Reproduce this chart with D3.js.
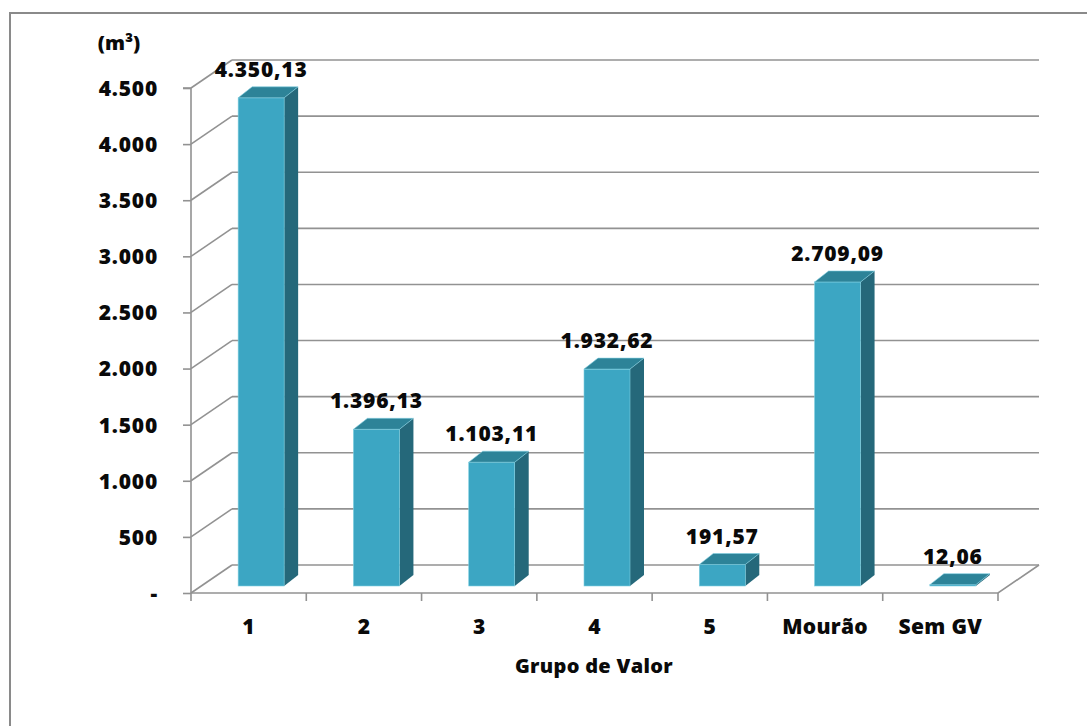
<!DOCTYPE html>
<html><head><meta charset="utf-8">
<script src="https://cdn.jsdelivr.net/npm/d3@7"></script>
<style>body{margin:0;background:#fff}svg{display:block}text{font-family:"Open Sans",sans-serif;font-weight:800;fill:#0a0a0a}</style>
</head><body>
<svg id="c" width="1087" height="726"></svg>
<script>
const categories = ["1","2","3","4","5","Mourão","Sem GV"];
const values = [4350.13, 1396.13, 1103.11, 1932.62, 191.57, 2709.09, 12.06];
const valueLabels = ["4.350,13","1.396,13","1.103,11","1.932,62","191,57","2.709,09","12,06"];
const yTicks = [0,500,1000,1500,2000,2500,3000,3500,4000,4500];
const yTickLabels = ["-","500","1.000","1.500","2.000","2.500","3.000","3.500","4.000","4.500"];
const yUnit = "(m³)";
const xTitle = "Grupo de Valor";

const svg = d3.select("#c");
const x0 = 191, x1 = 998, yBase = 593;
const depth = {dx: 41, dy: -28};
const barPlane = {dx: 12.5, dy: -7};
const barDepth = {dx: 14, dy: -11};
const barW = 46;

const x = d3.scaleBand().domain(categories).range([x0, x1]).padding(0);
const y = d3.scaleLinear().domain([0, 4500]).range([yBase, yBase - 505]);

// chart border
svg.append("rect").attr("x",10).attr("y",13).attr("width",1100).attr("height",800)
  .attr("fill","none").attr("stroke","#8a8a8a").attr("stroke-width",2);

const grid = svg.append("g").attr("stroke","#929292").attr("stroke-width",1.6).attr("fill","none");
yTicks.forEach(t => {
  const yy = y(t);
  grid.append("line").attr("x1",x0+depth.dx).attr("x2",x1+depth.dx)
    .attr("y1",yy+depth.dy).attr("y2",yy+depth.dy);
  grid.append("line").attr("x1",x0).attr("x2",x0+depth.dx)
    .attr("y1",yy).attr("y2",yy+depth.dy);
});
grid.append("path").attr("d",
  `M${x0},${yBase}L${x1},${yBase}L${x1+depth.dx},${yBase+depth.dy}`);

const yAxis = d3.axisLeft(y).tickValues(yTicks).tickFormat((d,i)=>yTickLabels[i]).tickSize(8).tickPadding(25);
const ga = svg.append("g").attr("transform",`translate(${x0},0)`).call(yAxis);
ga.select(".domain").attr("stroke","#929292").attr("stroke-width",1.6).attr("d",`M-8,${y(4500)}H0V${yBase}`);
ga.selectAll(".tick line").attr("stroke","#929292").attr("stroke-width",1.6);
ga.selectAll(".tick text").attr("font-size",21).attr("font-family","Open Sans").attr("font-weight",800)
  .attr("fill","#0a0a0a").style("letter-spacing","0.8px").attr("dy","0.35em");

const xAxis = d3.axisBottom(x).tickSize(0).tickPadding(26);
const gx = svg.append("g").attr("transform",`translate(0,${yBase})`).call(xAxis);
gx.select(".domain").remove();
gx.selectAll(".tick text").attr("font-size",21).attr("font-family","Open Sans").attr("font-weight",800)
  .attr("fill","#0a0a0a").style("letter-spacing","0.3px");
const edges = categories.map(c => x(c)).concat([x1]);
svg.append("g").selectAll("line").data(edges).join("line")
  .attr("x1",d=>d).attr("x2",d=>d).attr("y1",yBase).attr("y2",yBase+8)
  .attr("stroke","#929292").attr("stroke-width",1.6);

const bars = svg.append("g");
categories.forEach((c,i) => {
  const v = values[i];
  const cx = x(c) + x.bandwidth()/2 + barPlane.dx;
  const L = cx - barW/2, R = cx + barW/2;
  const yb = y(0) + barPlane.dy, yt = y(v) + barPlane.dy;
  const dx = barDepth.dx, dy = barDepth.dy;
  bars.append("path").attr("d",`M${R},${yb}L${R+dx},${yb+dy}L${R+dx},${yt+dy}L${R},${yt}Z`)
    .attr("fill","#25687A");
  if (yb - yt > 0.5)
    bars.append("rect").attr("x",L).attr("y",yt).attr("width",barW).attr("height",yb-yt)
      .attr("fill","#3CA6C3").attr("stroke","#7fcfe0").attr("stroke-width",0.6);
  bars.append("path").attr("d",`M${L},${yt}L${L+dx},${yt+dy}L${R+dx},${yt+dy}L${R},${yt}Z`)
    .attr("fill","#2D8398").attr("stroke","#7fcfe0").attr("stroke-width",0.6);
  svg.append("text").attr("x",cx).attr("y",yt-21).attr("text-anchor","middle")
    .attr("font-size",21).style("letter-spacing","0.8px").text(valueLabels[i]);
});

svg.append("text").attr("x",119).attr("y",50).attr("text-anchor","middle").attr("font-size",20).text(yUnit);
svg.append("text").attr("x",594).attr("y",673).attr("text-anchor","middle").attr("font-size",20)
  .style("letter-spacing","0.3px").text(xTitle);
</script>
</body></html>
